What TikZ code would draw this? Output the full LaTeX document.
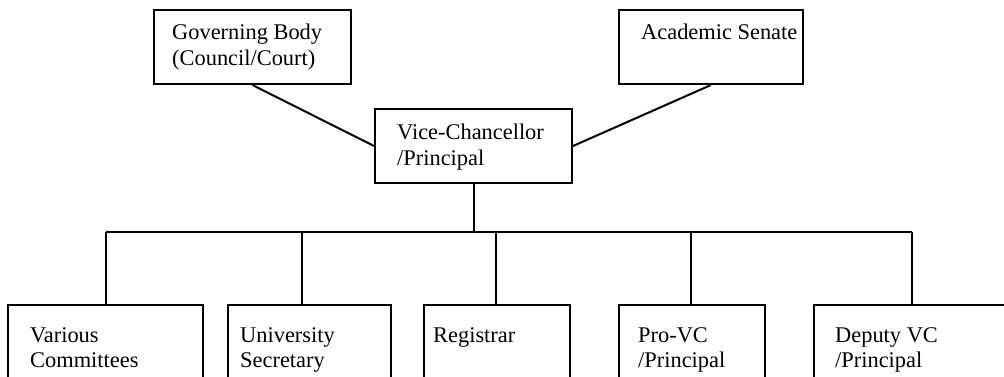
\documentclass[tikz,border=0pt]{standalone}
\usepackage{fontspec}
\setmainfont{Liberation Serif}
\usetikzlibrary{calc}
% two stacked lines whose baseline is the first line's baseline
\newcommand\boxlines[2]{\vtop{\hbox{#1}\hbox{#2}}}
\begin{document}
\begin{tikzpicture}[x=1pt,y=-1pt,
  box/.style={draw,line width=2pt,rectangle,inner sep=0pt,anchor=north west},
  txt/.style={inner sep=0pt,anchor=base west,font=\fontsize{22.4}{25.5}\selectfont},
  link/.style={line width=2pt}]
\useasboundingbox (0,0) rectangle (1004,377);
\clip (0,0) rectangle (1004,377);

% top row
\node[box,minimum width=197pt,minimum height=74pt] (gb) at (153,9) {};
\node[box,minimum width=184pt,minimum height=74pt] (as) at (618,9) {};
\node[txt] (gbt) at (172,40) {\boxlines{Governing Body}{(Council/Court)}};
\node[txt] (ast) at (641,40) {Academic Senate};

% vice-chancellor
\node[box,minimum width=197pt,minimum height=74pt] (vc) at (374,108) {};
\node[txt] (vct) at (397,140) {\boxlines{Vice-Chancellor}{/Principal}};

% bottom row (runs past the lower edge)
\node[box,minimum width=195pt,minimum height=110pt] (c1) at (7,304) {};
\node[box,minimum width=163pt,minimum height=110pt] (c2) at (227,304) {};
\node[box,minimum width=146pt,minimum height=110pt] (c3) at (423,304) {};
\node[box,minimum width=146pt,minimum height=110pt] (c4) at (618,304) {};
\node[box,minimum width=300pt,minimum height=110pt] (c5) at (813,304) {};

\node[txt] (c1t) at (30,342) {\boxlines{Various}{Committees}};
\node[txt] (c2t) at (240,342) {\boxlines{University}{Secretary}};
\node[txt] (c3t) at (433,342) {Registrar};
\node[txt] (c4t) at (638,342) {\boxlines{Pro-VC}{/Principal}};
\node[txt] (c5t) at (835,342) {\boxlines{Deputy VC}{/Principal}};

% connectors
\draw[link] (gb.south) -- (vc.west);
\draw[link] (as.south) -- (vc.east);

\coordinate (b1) at (106,232);
\coordinate (b2) at (302,232);
\coordinate (b3) at (496,232);
\coordinate (b4) at (691,232);
\coordinate (b5) at (912,232);

\draw[link] (vc.south) -- (vc.south |- b1);
\draw[link] (b1) -- (b5);
\draw[link] (b1) -- (b1 |- c1.north);
\draw[link] (b2) -- (b2 |- c2.north);
\draw[link] (b3) -- (b3 |- c3.north);
\draw[link] (b4) -- (b4 |- c4.north);
\draw[link] (b5) -- (b5 |- c5.north);
\end{tikzpicture}
\end{document}
